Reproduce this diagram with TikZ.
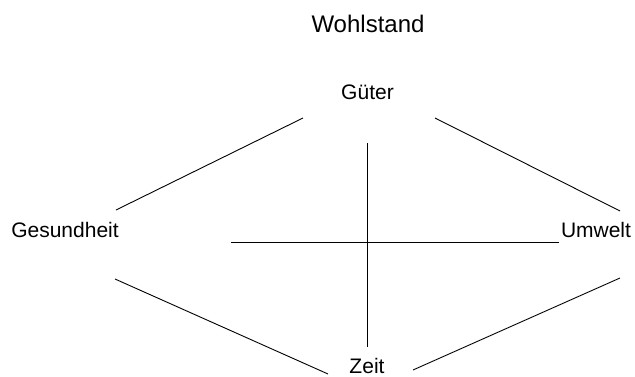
\documentclass[tikz,border=0pt]{standalone}
\usepackage{fontspec}
\setmainfont{Liberation Sans}
\begin{document}
\begin{tikzpicture}[x=1pt,y=-1pt,
  lbl/.style={inner sep=0pt,anchor=base,font=\fontsize{21}{25}\selectfont},
  ttl/.style={inner sep=0pt,anchor=base,font=\fontsize{24}{28}\selectfont},
  ln/.style={line width=0.9pt,draw=black}]
\useasboundingbox (0,0) rectangle (635,377);
\node[ttl] (wohl) at (368,33) {Wohlstand};
\node[lbl] (gueter) at (367.5,100) {Güter};
\node[lbl] (ges) at (65,237) {Gesundheit};
\node[lbl] (umw) at (596,237) {Umwelt};
\node[lbl] (zeit) at (367,373) {Zeit};
\coordinate (gg1) at (116,210);
\coordinate (gg2) at (303,118);
\coordinate (gu1) at (435,118);
\coordinate (gu2) at (620,211);
\coordinate (gz1) at (115,279);
\coordinate (gz2) at (328,374);
\coordinate (zu1) at (413,370);
\coordinate (zu2) at (620,278);
\coordinate (vt) at (367,143);
\coordinate (vb) at (367,347);
\coordinate (hl) at (231,242);
\coordinate (hr) at (559,242);
\draw[ln] (gg1) -- (gg2);
\draw[ln] (gu1) -- (gu2);
\draw[ln] (gz1) -- (gz2);
\draw[ln] (zu1) -- (zu2);
\draw[ln] (vt) -- (vb);
\draw[ln] (hl) -- (hr);
\end{tikzpicture}
\end{document}
